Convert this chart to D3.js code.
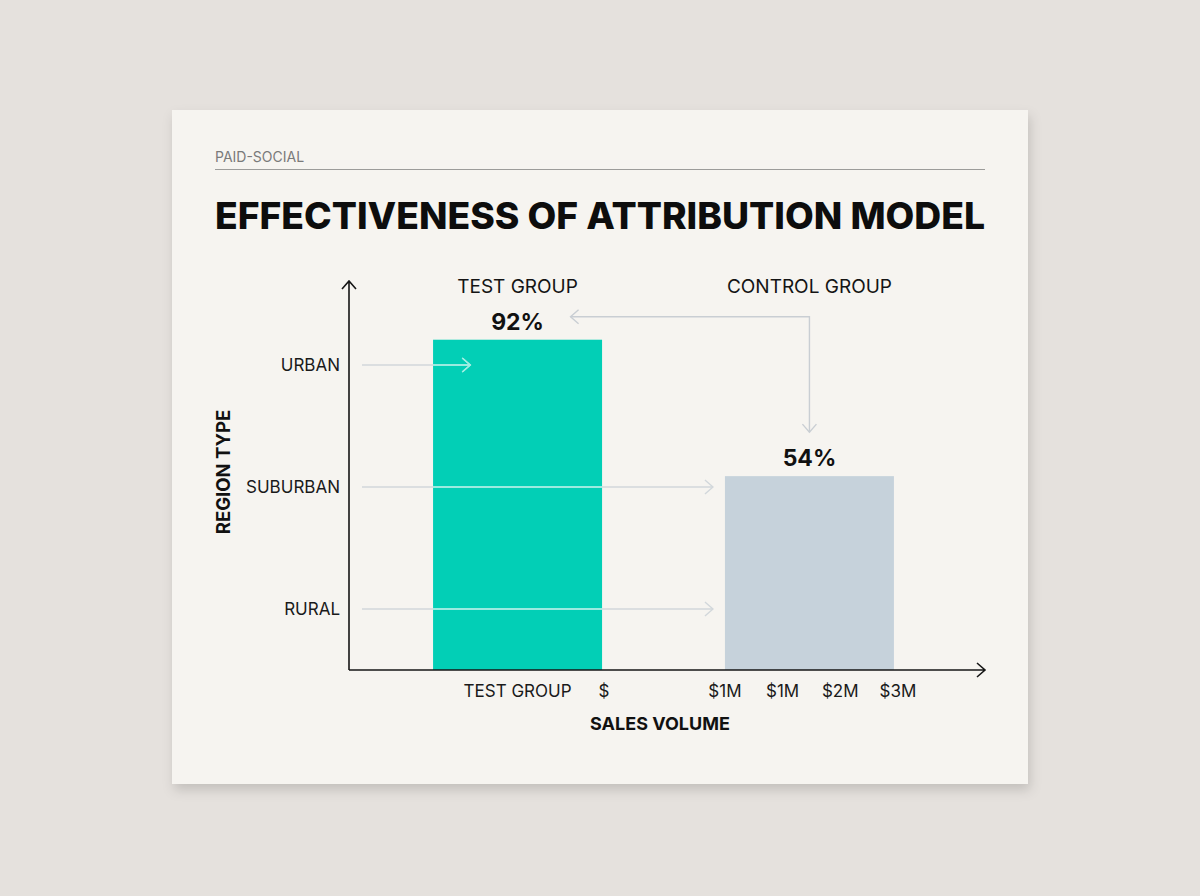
<!DOCTYPE html>
<html>
<head>
<meta charset="utf-8">
<script src="https://cdn.jsdelivr.net/npm/d3@7"></script>
<style>
  html, body { margin: 0; padding: 0; background: #e5e1dd; }
  svg { display: block; }
</style>
</head>
<body>
<div id="chart"></div>
<script>
// data
var groups = ["TEST GROUP", "CONTROL GROUP"];
var shares = [92, 54];
var regions = ["URBAN", "SUBURBAN", "RURAL"];
var regionTargets = ["TEST GROUP", "CONTROL GROUP", "CONTROL GROUP"];
var xTickLabels = ["TEST GROUP", "$", "$1M", "$1M", "$2M", "$3M"];
var eyebrow = "PAID-SOCIAL";
var title = "EFFECTIVENESS OF ATTRIBUTION MODEL";

var W = 1200, H = 896;
var font = "Inter, 'Liberation Sans', sans-serif";

var svg = d3.select("#chart").append("svg")
    .attr("width", W)
    .attr("height", H);

var defs = svg.append("defs");
var sh = defs.append("filter").attr("id", "shadow")
    .attr("x", "-10%").attr("y", "-10%").attr("width", "120%").attr("height", "125%");
sh.append("feDropShadow")
    .attr("dx", 2).attr("dy", 6).attr("stdDeviation", 6)
    .attr("flood-color", "#000").attr("flood-opacity", 0.15);

// card
svg.append("rect")
    .attr("x", 172).attr("y", 110)
    .attr("width", 856).attr("height", 674)
    .attr("fill", "#f6f4f0")
    .attr("filter", "url(#shadow)");

svg.append("text")
    .attr("x", 215).attr("y", 162)
    .attr("font-family", font).attr("font-size", 14)
    .attr("fill", "#7a7a7a")
    .text(eyebrow);

svg.append("line")
    .attr("x1", 215).attr("x2", 985)
    .attr("y1", 169.5).attr("y2", 169.5)
    .attr("stroke", "#9c9c9a").attr("stroke-width", 1.2);

svg.append("text")
    .attr("x", 215).attr("y", 229)
    .attr("font-family", font).attr("font-size", 37)
    .attr("font-weight", 800)
    .attr("fill", "#0d0d0d")
    .attr("textLength", 770)
    .attr("lengthAdjust", "spacingAndGlyphs")
    .text(title);

// scales
var x = d3.scaleBand()
    .domain(groups)
    .range([349, 978])
    .paddingInner(0.421)
    .paddingOuter(0.288);

var y = d3.scaleLinear()
    .domain([0, 100])
    .range([670, 311]);

var yr = d3.scalePoint()
    .domain(regions.slice().reverse())
    .range([670, 304])
    .padding(0.5);

var colors = ["#02cfb6", "#c6d2db"];
var rows = groups.map(function(g, i) { return {group: g, value: shares[i], color: colors[i]}; });

var plot = svg.append("g");

// bars
plot.selectAll("rect.bar")
    .data(rows)
    .enter()
    .append("rect")
    .attr("class", "bar")
    .attr("x", function(d) { return x(d.group); })
    .attr("y", function(d) { return y(d.value); })
    .attr("width", x.bandwidth())
    .attr("height", function(d) { return y(0) - y(d.value); })
    .attr("fill", function(d) { return d.color; });

// group labels
plot.selectAll("text.grp")
    .data(rows)
    .enter()
    .append("text")
    .attr("class", "grp")
    .attr("x", function(d) { return x(d.group) + x.bandwidth() / 2; })
    .attr("y", 293)
    .attr("text-anchor", "middle")
    .attr("font-family", font).attr("font-size", 19)
    .attr("fill", "#141414")
    .text(function(d) { return d.group; });

// value labels
plot.selectAll("text.val")
    .data(rows)
    .enter()
    .append("text")
    .attr("class", "val")
    .attr("x", function(d) { return x(d.group) + x.bandwidth() / 2; })
    .attr("y", function(d) { return y(d.value) - 10; })
    .attr("text-anchor", "middle")
    .attr("font-family", font).attr("font-size", 23)
    .attr("font-weight", 700)
    .attr("fill", "#111")
    .text(function(d) { return d.value + "%"; });

// region arrows
function chevronRight(g, px, py, color) {
    g.append("path")
        .attr("d", "M" + (px - 8) + "," + (py - 7) + " L" + px + "," + py + " L" + (px - 8) + "," + (py + 7))
        .attr("fill", "none").attr("stroke", color).attr("stroke-width", 1.4);
}

var clip = defs.append("clipPath").attr("id", "testclip");
clip.append("rect")
    .attr("x", x(groups[0])).attr("y", y(shares[0]))
    .attr("width", x.bandwidth()).attr("height", y(0) - y(shares[0]));

var arrows = plot.append("g");
var arrowsOnBar = plot.append("g").attr("clip-path", "url(#testclip)");

regions.forEach(function(r, i) {
    var yy = yr(r);
    var x1 = 362;
    var x2 = regionTargets[i] === groups[0]
        ? x(groups[0]) + x.bandwidth() * 0.22
        : x(regionTargets[i]) - 12;
    [[arrows, "#d2d7db"], [arrowsOnBar, "#9af2e4"]].forEach(function(p) {
        p[0].append("line")
            .attr("x1", x1).attr("x2", x2)
            .attr("y1", yy).attr("y2", yy)
            .attr("stroke", p[1]).attr("stroke-width", 1.4);
        chevronRight(p[0], x2, yy, p[1]);
    });
    svg.append("text")
        .attr("x", 340).attr("y", yy + 6)
        .attr("text-anchor", "end")
        .attr("font-family", font).attr("font-size", 17)
        .attr("fill", "#1a1a1a")
        .text(r);
});

// connector between value labels
var cx0 = x(groups[0]) + x.bandwidth() / 2 + 53;
var cx1 = x(groups[1]) + x.bandwidth() / 2;
var cy0 = y(shares[0]) - 23;
var cy1 = y(shares[1]) - 44;
var conColor = "#c9ced3";
plot.append("path")
    .attr("d", "M" + cx0 + "," + cy0 + " L" + cx1 + "," + cy0 + " L" + cx1 + "," + cy1)
    .attr("fill", "none").attr("stroke", conColor).attr("stroke-width", 1.4);
plot.append("path")
    .attr("d", "M" + (cx0 + 8) + "," + (cy0 - 7) + " L" + cx0 + "," + cy0 + " L" + (cx0 + 8) + "," + (cy0 + 7))
    .attr("fill", "none").attr("stroke", conColor).attr("stroke-width", 1.4);
plot.append("path")
    .attr("d", "M" + (cx1 - 7) + "," + (cy1 - 8) + " L" + cx1 + "," + cy1 + " L" + (cx1 + 7) + "," + (cy1 - 8))
    .attr("fill", "none").attr("stroke", conColor).attr("stroke-width", 1.4);

// axes
var axisColor = "#161616";
svg.append("path")
    .attr("d", "M349,670 L349,281 M342,289 L349,281 L356,289")
    .attr("fill", "none").attr("stroke", axisColor).attr("stroke-width", 1.6);
svg.append("path")
    .attr("d", "M349,670 L985,670 M977,663 L985,670 L977,677")
    .attr("fill", "none").attr("stroke", axisColor).attr("stroke-width", 1.6);

// x tick labels
var cStart = x(groups[1]), cEnd = x(groups[1]) + x.bandwidth();
var tickX = [
    x(groups[0]) + x.bandwidth() / 2,
    x(groups[0]) + x.bandwidth() + 2
];
var ctl = d3.scalePoint().domain(d3.range(4)).range([cStart, cEnd + 4]);
d3.range(4).forEach(function(k) { tickX.push(ctl(k)); });

svg.selectAll("text.xt")
    .data(xTickLabels)
    .enter()
    .append("text")
    .attr("class", "xt")
    .attr("x", function(d, i) { return tickX[i]; })
    .attr("y", 697)
    .attr("text-anchor", "middle")
    .attr("font-family", font).attr("font-size", 17)
    .attr("fill", "#1a1a1a")
    .text(function(d) { return d; });

// axis titles
svg.append("text")
    .attr("x", 660).attr("y", 730)
    .attr("text-anchor", "middle")
    .attr("font-family", font).attr("font-size", 18)
    .attr("font-weight", 700)
    .attr("fill", "#111")
    .text("SALES VOLUME");

svg.append("text")
    .attr("transform", "translate(230,472) rotate(-90)")
    .attr("text-anchor", "middle")
    .attr("font-family", font).attr("font-size", 18.5)
    .attr("font-weight", 700)
    .attr("fill", "#111")
    .text("REGION TYPE");
</script>
</body>
</html>
